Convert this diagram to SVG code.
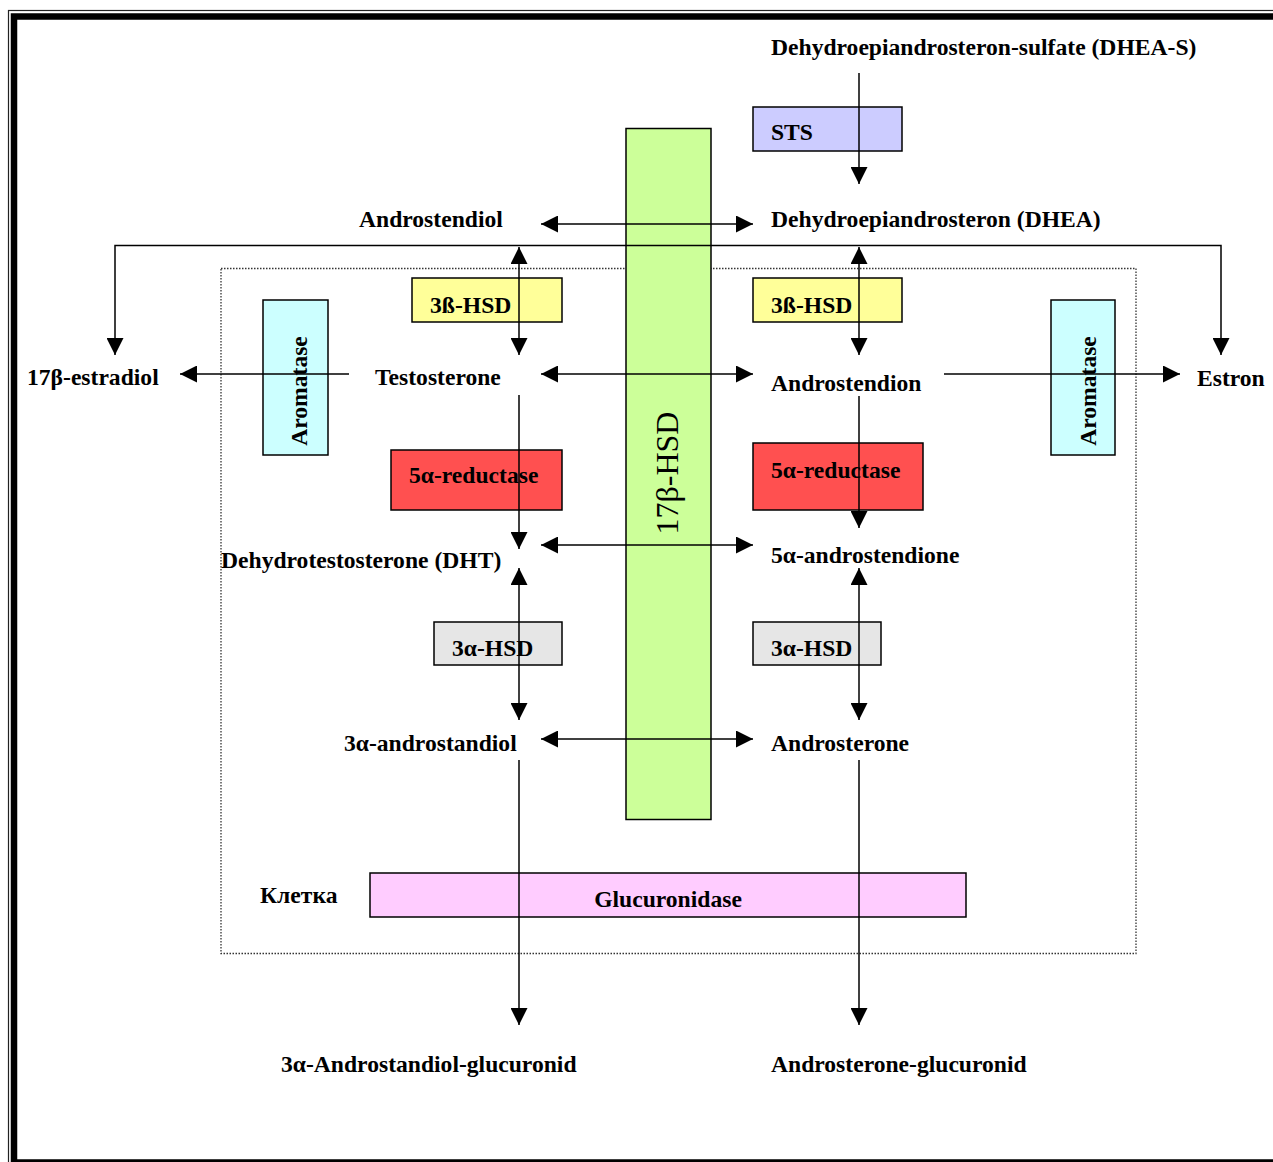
<svg xmlns="http://www.w3.org/2000/svg" width="1273" height="1162" viewBox="0 0 1273 1162">
<defs>
<style>
text{font-family:"Liberation Serif","Times New Roman",serif;font-weight:bold;font-size:23.6px;fill:#000}
.box{stroke:#000;stroke-width:1.5}
.c{fill:none;stroke:#000;stroke-width:1.5}
.mid{text-anchor:middle}
</style>
<marker id="ah" viewBox="0 0 17 17" refX="17" refY="8.5" markerWidth="17" markerHeight="17" markerUnits="userSpaceOnUse" orient="auto-start-reverse">
<path d="M0,0 L17,8.5 L0,17 z" fill="#000"/>
</marker>
</defs>
<rect width="1273" height="1162" fill="#fff"/>
<g id="frame">
<rect x="8.5" y="10.5" width="1300" height="1200" fill="none" stroke="#222" stroke-width="1.2"/>
<rect x="14" y="16.5" width="1300" height="1146" fill="none" stroke="#000" stroke-width="6.5"/>
</g>
<g id="cell">
<rect x="221" y="268.5" width="915" height="685" fill="none" stroke="#333" stroke-width="1.3" stroke-dasharray="1.5,1.5"/>
<text x="260" y="903">Клетка</text>
</g>
<g id="hsd17">
<rect class="box" x="626" y="128.5" width="85" height="691" fill="#ccff99"/>
<text transform="translate(678,473) rotate(-90)" class="mid" style="font-weight:normal;font-size:32px">17β-HSD</text>
</g>
<g id="dheas"><text x="771" y="55">Dehydroepiandrosteron-sulfate (DHEA-S)</text></g>
<g id="sts"><rect class="box" x="753" y="107" width="149" height="44" fill="#ccccff"/><text x="771" y="140">STS</text></g>
<g id="androstendiol"><text x="359" y="227">Androstendiol</text></g>
<g id="dhea"><text x="771" y="227">Dehydroepiandrosteron (DHEA)</text></g>
<g id="hsd3b-left"><rect class="box" x="412" y="278" width="150" height="44" fill="#ffff99"/><text x="430" y="313">3ß-HSD</text></g>
<g id="hsd3b-right"><rect class="box" x="753" y="278" width="149" height="44" fill="#ffff99"/><text x="771" y="313">3ß-HSD</text></g>
<g id="aromatase-left"><rect class="box" x="263" y="300" width="65" height="155" fill="#ccffff"/><text transform="translate(307,391) rotate(-90)" class="mid">Aromatase</text></g>
<g id="aromatase-right"><rect class="box" x="1051" y="300" width="64" height="155" fill="#ccffff"/><text transform="translate(1096,391) rotate(-90)" class="mid">Aromatase</text></g>
<g id="estradiol"><text x="27" y="385">17β-estradiol</text></g>
<g id="testosterone"><text x="375" y="385">Testosterone</text></g>
<g id="androstendion"><text x="771" y="391">Androstendion</text></g>
<g id="estron"><text x="1197" y="386">Estron</text></g>
<g id="red-left"><rect class="box" x="391" y="450" width="171" height="60" fill="#ff5050"/><text x="409" y="483">5α-reductase</text></g>
<g id="red-right"><rect class="box" x="753" y="443" width="170" height="67" fill="#ff5050"/><text x="771" y="478">5α-reductase</text></g>
<g id="dht"><text x="221" y="568">Dehydrotestosterone (DHT)</text></g>
<g id="androstendione5a"><text x="771" y="563">5α-androstendione</text></g>
<g id="hsd3a-left"><rect class="box" x="434" y="622" width="128" height="43" fill="#e6e6e6"/><text x="452" y="656">3α-HSD</text></g>
<g id="hsd3a-right"><rect class="box" x="753" y="622" width="128" height="43" fill="#e6e6e6"/><text x="771" y="656">3α-HSD</text></g>
<g id="androstandiol"><text x="344" y="751">3α-androstandiol</text></g>
<g id="androsterone"><text x="771" y="751">Androsterone</text></g>
<g id="glucuronidase"><rect class="box" x="370" y="873" width="596" height="44" fill="#ffccff"/><text x="668" y="907" class="mid">Glucuronidase</text></g>
<g id="androstandiol-gluc"><text x="281" y="1072">3α-Androstandiol-glucuronid</text></g>
<g id="androsterone-gluc"><text x="771" y="1072">Androsterone-glucuronid</text></g>
<g id="connectors">
<line class="c" x1="859" y1="73" x2="859" y2="184" marker-end="url(#ah)"/>
<line class="c" x1="541" y1="224" x2="753" y2="224" marker-start="url(#ah)" marker-end="url(#ah)"/>
<polyline class="c" points="115,355 115,245.5 1221,245.5 1221,355" marker-start="url(#ah)" marker-end="url(#ah)"/>
<line class="c" x1="519" y1="247" x2="519" y2="355" marker-start="url(#ah)" marker-end="url(#ah)"/>
<line class="c" x1="859" y1="247" x2="859" y2="355" marker-start="url(#ah)" marker-end="url(#ah)"/>
<line class="c" x1="349" y1="374" x2="180" y2="374" marker-end="url(#ah)"/>
<line class="c" x1="541" y1="374" x2="753" y2="374" marker-start="url(#ah)" marker-end="url(#ah)"/>
<line class="c" x1="944" y1="374" x2="1180" y2="374" marker-end="url(#ah)"/>
<line class="c" x1="519" y1="395" x2="519" y2="549" marker-end="url(#ah)"/>
<line class="c" x1="859" y1="396" x2="859" y2="528" marker-end="url(#ah)"/>
<line class="c" x1="541" y1="545" x2="753" y2="545" marker-start="url(#ah)" marker-end="url(#ah)"/>
<line class="c" x1="519" y1="568" x2="519" y2="720" marker-start="url(#ah)" marker-end="url(#ah)"/>
<line class="c" x1="859" y1="568" x2="859" y2="720" marker-start="url(#ah)" marker-end="url(#ah)"/>
<line class="c" x1="541" y1="739" x2="753" y2="739" marker-start="url(#ah)" marker-end="url(#ah)"/>
<line class="c" x1="519" y1="760" x2="519" y2="1025" marker-end="url(#ah)"/>
<line class="c" x1="859" y1="760" x2="859" y2="1025" marker-end="url(#ah)"/>
</g>
</svg>
